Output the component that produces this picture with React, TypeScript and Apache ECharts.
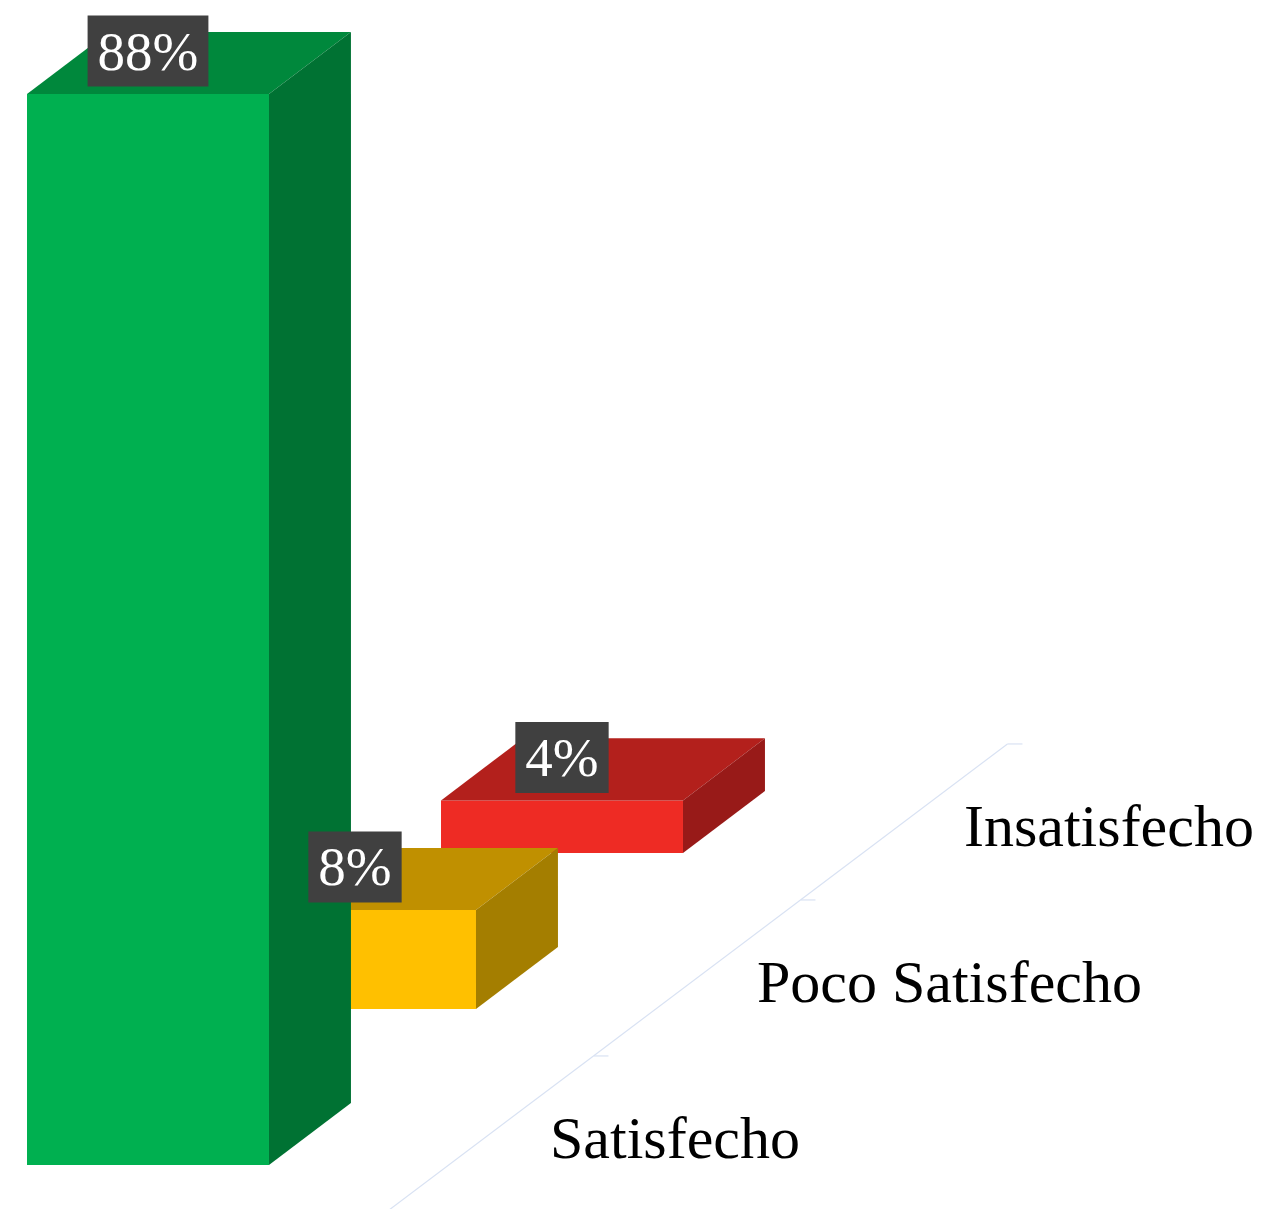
import React, { useEffect, useRef } from 'react';
import * as echarts from 'echarts';

const categories = ['Satisfecho', 'Poco Satisfecho', 'Insatisfecho'];
const values = [87.6, 8.1, 4.3];

const frontColors = ['#00B050', '#FFC000', '#EE2B24'];
const topColors = ['#00883C', '#C09000', '#B3201C'];
const sideColors = ['#007233', '#A47E00', '#981A18'];

const SERIF = '"Liberation Serif", "DejaVu Serif", serif';

export default function App() {
  const ref = useRef<HTMLDivElement>(null);
  useEffect(() => {
    const chart = echarts.init(ref.current!, null, { renderer: 'svg' });
    const data = values.map((v, i) => [i, v]);

    const geom = (api: any, i: number, v: number) => {
      const base = api.coord([i, 0]);
      const top = api.coord([i, v]);
      const bw = api.size([1, 0])[0];
      const fw = bw * 1.169;
      const dx = bw * 0.396;
      const dy = bw * 0.3;
      const sy = bw * 0.7536;
      const xl = base[0] - fw / 2;
      const xr = base[0] + fw / 2;
      const y0 = base[1] - i * sy;
      const y1 = top[1] - i * sy;
      return { bw, fw, dx, dy, sy, xl, xr, y0, y1, cx: base[0] };
    };

    chart.setOption({
      animation: false,
      grid: { left: 44.5, width: 621, top: 64.7, height: 1100.3 },
      xAxis: { type: 'category', data: categories, show: false },
      yAxis: { type: 'value', min: 0, max: 90, show: false },
      series: [
        {
          type: 'custom',
          data,
          renderItem: (params: any, api: any) => {
            const i = api.value(0);
            const v = api.value(1);
            const g = geom(api, i, v);
            const z = (3 - i) * 10;
            return {
              type: 'group',
              children: [
                {
                  type: 'polygon',
                  shape: { points: [[g.xl, g.y1], [g.xr, g.y1], [g.xr, g.y0], [g.xl, g.y0]] },
                  style: { fill: frontColors[i] },
                  z2: z,
                },
                {
                  type: 'polygon',
                  shape: {
                    points: [[g.xl, g.y1], [g.xr, g.y1], [g.xr + g.dx, g.y1 - g.dy], [g.xl + g.dx, g.y1 - g.dy]],
                  },
                  style: { fill: topColors[i] },
                  z2: z,
                },
                {
                  type: 'polygon',
                  shape: {
                    points: [[g.xr, g.y1], [g.xr + g.dx, g.y1 - g.dy], [g.xr + g.dx, g.y0 - g.dy], [g.xr, g.y0]],
                  },
                  style: { fill: sideColors[i] },
                  z2: z,
                },
                {
                  type: 'text',
                  x: g.cx,
                  y: g.y1 - 43,
                  style: {
                    text: Math.round(v) + '%',
                    fill: '#ffffff',
                    fontSize: 55,
                    fontFamily: SERIF,
                    align: 'center',
                    verticalAlign: 'middle',
                    backgroundColor: '#404040',
                    padding: [8, 10],
                  },
                  z2: 100,
                },
              ],
            };
          },
        },
        {
          type: 'custom',
          data,
          renderItem: (params: any, api: any) => {
            const i = api.value(0);
            const g = geom(api, i, 0);
            const cx = g.cx + g.dx / 2;
            const cy = g.y0 - g.dy / 2;
            const lx = cx + g.bw * 1.454;
            const hx = g.bw / 2;
            const hy = g.sy / 2;
            const lineStyle = { stroke: '#D9E2F3', lineWidth: 1.2 };
            return {
              type: 'group',
              children: [
                {
                  type: 'line',
                  shape: { x1: lx - hx, y1: cy + hy, x2: lx + hx, y2: cy - hy },
                  style: lineStyle,
                },
                {
                  type: 'line',
                  shape: { x1: lx + hx, y1: cy - hy, x2: lx + hx + 15, y2: cy - hy },
                  style: lineStyle,
                },
                {
                  type: 'text',
                  x: cx + g.bw * 1.744,
                  y: cy + 4,
                  style: {
                    text: categories[i],
                    fill: '#000000',
                    fontSize: 60,
                    fontFamily: SERIF,
                    align: 'left',
                    verticalAlign: 'middle',
                  },
                },
              ],
            };
          },
        },
      ],
    });
    return () => chart.dispose();
  }, []);
  return (
    <div
      ref={ref}
      style={{ position: 'fixed', left: 0, top: 0, width: 1268, height: 1209 }}
    />
  );
}
